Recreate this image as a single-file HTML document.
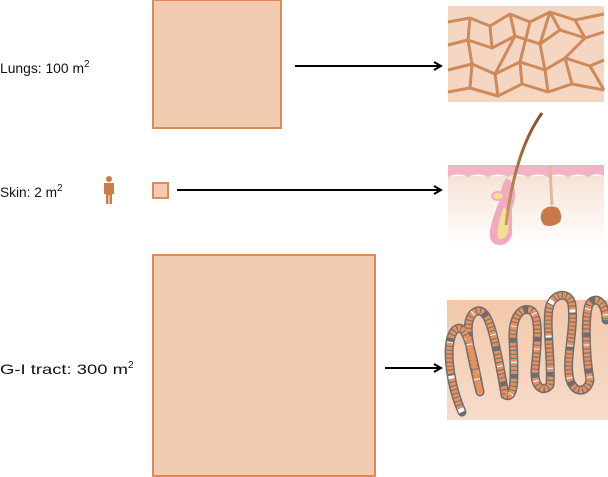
<!DOCTYPE html>
<html><head><meta charset="utf-8"><style>
html,body{margin:0;padding:0;background:#fff;width:608px;height:477px;overflow:hidden}
svg{display:block}
text{font-family:"Liberation Sans",sans-serif;font-size:14px;fill:#111}
</style></head><body>
<svg width="608" height="477" viewBox="0 0 608 477" xmlns="http://www.w3.org/2000/svg">
<defs>
<marker id="ah" markerWidth="10" markerHeight="10" refX="8" refY="5" orient="auto" markerUnits="userSpaceOnUse">
<path d="M1,1 L8,5 L1,9" fill="none" stroke="#000" stroke-width="2"/></marker>
<linearGradient id="skg" x1="0" y1="0" x2="0" y2="1"><stop offset="0" stop-color="#f6e3d6"/><stop offset="1" stop-color="#fff"/></linearGradient>
<linearGradient id="gig" x1="0" y1="0" x2="0" y2="1"><stop offset="0" stop-color="#f3c8aa"/><stop offset="1" stop-color="#f6dccb"/></linearGradient>
<linearGradient id="hair" x1="0" y1="0" x2="0" y2="1"><stop offset="0" stop-color="#8a4a2a"/><stop offset="1" stop-color="#c9a060"/></linearGradient>
</defs>

<text x="0" y="73"><tspan textLength="84" lengthAdjust="spacingAndGlyphs">Lungs: 100 m</tspan><tspan font-size="10" dy="-6">2</tspan></text>
<text x="0" y="197"><tspan textLength="57" lengthAdjust="spacingAndGlyphs">Skin: 2 m</tspan><tspan font-size="10" dy="-6">2</tspan></text>
<text x="0" y="374"><tspan textLength="128" lengthAdjust="spacingAndGlyphs">G-I tract: 300 m</tspan><tspan font-size="10" dy="-6">2</tspan></text>

<rect x="153" y="0" width="128" height="128" fill="#f3cbb0" stroke="#d98a5e" stroke-width="2"/>
<rect x="153" y="183" width="15" height="15" fill="#f3cbb0" stroke="#d98a5e" stroke-width="2"/>
<rect x="153" y="255" width="222" height="221" fill="#f3cbb0" stroke="#d98a5e" stroke-width="2"/>

<g fill="#d07a4a">
<circle cx="109" cy="179" r="3"/>
<path d="M104,183 h10 v11 h-2 v10 h-2.5 v-9 h-1 v9 h-2.5 v-10 h-2 z"/>
</g>

<line x1="295" y1="66" x2="441" y2="66" stroke="#000" stroke-width="2" marker-end="url(#ah)"/>
<line x1="177" y1="190" x2="441" y2="190" stroke="#000" stroke-width="2" marker-end="url(#ah)"/>
<line x1="385" y1="368" x2="441" y2="368" stroke="#000" stroke-width="2" marker-end="url(#ah)"/>

<rect x="448" y="6" width="156" height="96" fill="#f4d6c2"/>
<g fill="none" stroke="#cf8a5a" stroke-width="3" stroke-linejoin="round">
<path d="M448,22 L470,18 L490,26 L510,14 L530,22 L550,12 L575,20 L604,14"/>
<path d="M448,45 L468,40 L492,48 L515,36 L540,44 L560,30 L585,38 L604,32"/>
<path d="M448,70 L472,64 L495,74 L520,62 L545,70 L565,58 L590,66 L604,60"/>
<path d="M448,92 L470,88 L498,96 L522,84 L548,92 L572,84 L604,90"/>
<path d="M470,18 L468,40 L472,64 L470,88"/>
<path d="M510,14 L515,36 L495,74 L498,96"/>
<path d="M550,12 L540,44 L545,70 L548,92"/>
<path d="M575,20 L585,38 L565,58 L572,84"/>
<path d="M490,26 L492,48"/><path d="M530,22 L520,62 L522,84"/>
<path d="M590,66 L604,90"/><path d="M560,30 L550,12"/>
</g>

<rect x="448" y="176" width="156" height="70" fill="url(#skg)"/>
<path d="M448,165 H604 V176 Q596,172 588,177 Q578,172 568,177 Q558,172 548,177 Q538,172 528,177 Q518,172 508,177 Q498,172 488,177 Q478,172 468,177 Q458,172 448,177 Z" fill="#f3b3c3"/>
<path d="M506,178 Q516,182 515,196 Q514,205 512,208 L512,235 Q508,246 498,245 Q488,243 490,230 Q494,212 500,200 Q500,188 506,178 Z" fill="#f3a9c0"/>
<path d="M504,207 Q510,212 508,232 Q504,242 498,238 Q496,226 504,207 Z" fill="#f2e08f"/>
<ellipse cx="498" cy="196" rx="6" ry="4" fill="#f2e08f" stroke="#f3a9c0" stroke-width="2"/>
<path d="M542,113 Q515,150 506,225" fill="none" stroke="url(#hair)" stroke-width="3"/>
<path d="M550,166 Q551,190 552,205" fill="none" stroke="#e0b8a2" stroke-width="3"/>
<path d="M543,210 Q550,204 558,208 Q563,215 560,222 Q552,228 544,225 Q538,218 543,210 Z" fill="#c8784a"/>

<rect x="447" y="300" width="161" height="120" fill="url(#gig)"/>
<g fill="none" stroke-linecap="round" stroke-linejoin="round">
<path stroke="#6e6e6e" stroke-width="9" d="M462,412 C448,380 445,340 455,330 C465,322 470,340 480,392 C470,350 462,320 475,312 C488,305 494,330 505,395 C515,400 515,380 513,340 C512,318 520,307 530,310 C540,313 538,340 535,370 C534,390 545,392 550,385 C552,360 545,320 550,305 C555,292 570,292 572,305 C575,330 565,360 570,380 C575,395 588,392 590,380 C585,350 585,310 590,303 C598,295 606,305 606,320"/>
<path stroke="#fff" stroke-width="6" stroke-linecap="butt" stroke-dasharray="4 30" d="M462,412 C448,380 445,340 455,330 C465,322 470,340 480,392 C470,350 462,320 475,312 C488,305 494,330 505,395 C515,400 515,380 513,340 C512,318 520,307 530,310 C540,313 538,340 535,370 C534,390 545,392 550,385 C552,360 545,320 550,305 C555,292 570,292 572,305 C575,330 565,360 570,380 C575,395 588,392 590,380 C585,350 585,310 590,303 C598,295 606,305 606,320"/>
<path stroke="#e8915e" stroke-width="6" stroke-dasharray="3 1 3 1 3 1 3 1 3 1 3 1 3 1 3 5" stroke-dashoffset="-4" stroke-linecap="butt" d="M462,412 C448,380 445,340 455,330 C465,322 470,340 480,392 C470,350 462,320 475,312 C488,305 494,330 505,395 C515,400 515,380 513,340 C512,318 520,307 530,310 C540,313 538,340 535,370 C534,390 545,392 550,385 C552,360 545,320 550,305 C555,292 570,292 572,305 C575,330 565,360 570,380 C575,395 588,392 590,380 C585,350 585,310 590,303 C598,295 606,305 606,320"/>
</g>
</svg>
</body></html>
